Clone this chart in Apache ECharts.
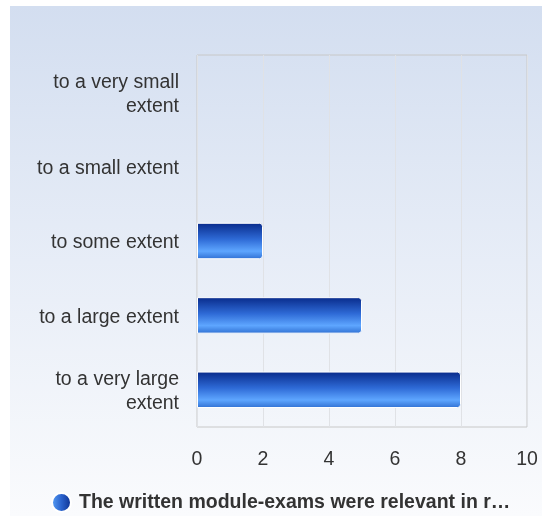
<!DOCTYPE html>
<html><head><meta charset="utf-8">
<script src="https://cdn.jsdelivr.net/npm/echarts@6/dist/echarts.min.js"></script>
<style>html,body{margin:0;padding:0;background:#fff}#c{width:542px;height:516px}</style>
</head><body><div id="c"></div>
<script>
const categories = ["to a very small extent","to a small extent","to some extent","to a large extent","to a very large extent"];
const values = [0,0,2,5,8];
const seriesName = "The written module-exams were relevant in r…";
const xTicks = [0,2,4,6,8,10];

const chart = echarts.init(document.getElementById('c'), null, {renderer:'canvas'});
const font = "'Liberation Sans', Arial, sans-serif";
const fs = 19.5;
chart.setOption({
  backgroundColor: 'transparent',
  animation: false,
  graphic: [{
    type: 'rect', z: -10, silent: true,
    shape: {x: 10, y: 6, width: 532, height: 510},
    style: {fill: new echarts.graphic.LinearGradient(0,0,0,1,[
      {offset:0,color:'#d3def0'},{offset:0.5,color:'#e7edf7'},{offset:1,color:'#fafbfd'}])}
  }],
  grid: {left:197, right:15, top:55, bottom:89, show:true, borderColor:'#c8c8c8', borderWidth:1, backgroundColor:'transparent'},
  legend: {
    top: 492, left: 51, padding: 0, itemWidth: 19, itemHeight: 19, itemGap: 8, icon: 'circle',
    textStyle: {fontFamily: font, fontSize: fs, fontWeight: 'bold', color: '#333', padding: [0,0,0,3]},
    data: [{name: seriesName, itemStyle: {color: new echarts.graphic.LinearGradient(0,0,1,0,[
      {offset:0,color:'#5aa2f8'},{offset:0.5,color:'#2a62cc'},{offset:1,color:'#0a2d8c'}])}}]
  },
  xAxis: {
    type: 'value', min: 0, max: 10, interval: 2,
    axisLine: {show:false}, axisTick: {show:false},
    splitLine: {lineStyle: {color:'#e0e2e6', width:1}},
    axisLabel: {fontFamily: font, fontSize: fs, color: '#333', margin: 23,
      formatter: v => xTicks.includes(v) ? String(v) : ''}
  },
  yAxis: {
    type: 'category', data: categories.slice().reverse(),
    axisLine: {show:false}, axisTick: {show:false},
    axisLabel: {fontFamily: font, fontSize: fs, color: '#333', margin: 18, lineHeight: 24, align: 'right',
      verticalAlign: 'middle',
      formatter: s => s.length > 17 ? '{a|' + s.replace(/ extent$/, '}\n{a|extent}') : '{a|' + s + '}',
      rich: {a: {fontFamily: font, fontSize: fs, color: '#333', lineHeight: 24, padding: [4,0,0,0]}}}
  },
  series: [{
    type: 'bar', name: seriesName, barWidth: '49%',
    data: values.slice().reverse().map(v => v === 0 ? {value: v, itemStyle: {borderWidth: 0, opacity: 0}} : v),
    itemStyle: {
      borderColor: '#ffffff', borderWidth: 1, borderRadius: [0,3,3,0],
      color: new echarts.graphic.LinearGradient(0,0,0,1,[
        {offset:0,color:'#082a8a'},{offset:0.45,color:'#2e6ad6'},{offset:0.78,color:'#5ea6ff'},{offset:1,color:'#2f6fd2'}])
    }
  }]
});
</script></body></html>
